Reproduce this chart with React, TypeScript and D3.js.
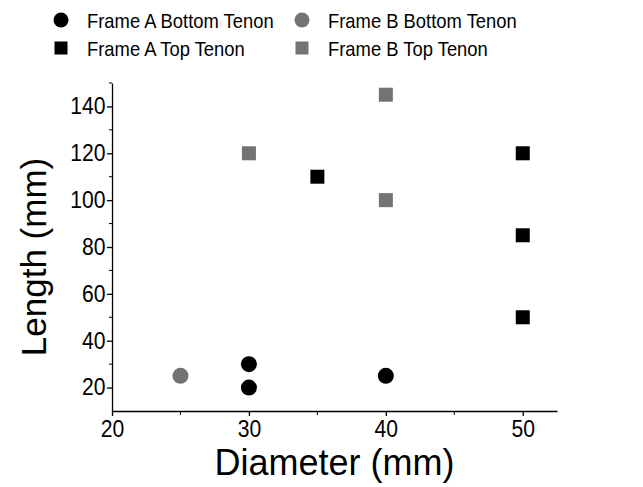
import { useEffect, useRef } from "react";
import * as d3 from "d3";

const seriesNames = [
  "Frame A Bottom Tenon",
  "Frame B Bottom Tenon",
  "Frame A Top Tenon",
  "Frame B Top Tenon",
];

// [diameter, length]
const frameABottom: [number, number][] = [
  [30, 30],
  [30, 20],
  [40, 25],
];
const frameBBottom: [number, number][] = [[25, 25]];
const frameATop: [number, number][] = [
  [35, 110],
  [50, 120],
  [50, 85],
  [50, 50],
];
const frameBTop: [number, number][] = [
  [30, 120],
  [40, 145],
  [40, 100],
];

const xTicks = [20, 30, 40, 50];
const xMinorTicks = [25, 35, 45];
const yTicks = [20, 40, 60, 80, 100, 120, 140];
const yMinorTicks = [30, 50, 70, 90, 110, 130, 150];

const W = 643;
const H = 487;
const GRAY = "#737373";
const FONT = "Arial, 'Liberation Sans', sans-serif";

export default function App() {
  const ref = useRef<SVGSVGElement | null>(null);

  useEffect(() => {
    const svg = d3.select(ref.current!);
    svg.selectAll("*").remove();

    const margin = { top: 83, right: 86, bottom: 76, left: 112 };
    const x = d3.scaleLinear().domain([20, 52.5]).range([margin.left, W - margin.right]);
    const y = d3.scaleLinear().domain([10, 150]).range([H - margin.bottom, margin.top]);

    const series = [
      { name: seriesNames[0], data: frameABottom, shape: "circle", color: "#000" },
      { name: seriesNames[1], data: frameBBottom, shape: "circle", color: GRAY },
      { name: seriesNames[2], data: frameATop, shape: "square", color: "#000" },
      { name: seriesNames[3], data: frameBTop, shape: "square", color: GRAY },
    ];

    // axes
    const xAxis = svg
      .append("g")
      .attr("transform", `translate(0,${y(10)})`)
      .call(d3.axisBottom(x).tickValues(xTicks).tickSize(5).tickSizeOuter(0).tickPadding(5));
    xAxis
      .selectAll("g.minor")
      .data(xMinorTicks)
      .join("line")
      .attr("x1", (d) => x(d))
      .attr("x2", (d) => x(d))
      .attr("y1", 0)
      .attr("y2", 4)
      .attr("stroke", "#000");

    const yAxis = svg
      .append("g")
      .attr("transform", `translate(${x(20)},0)`)
      .call(d3.axisLeft(y).tickValues(yTicks).tickSize(5).tickSizeOuter(0).tickPadding(2));
    yAxis
      .selectAll("g.minor")
      .data(yMinorTicks)
      .join("line")
      .attr("x1", 0)
      .attr("x2", -3)
      .attr("y1", (d) => y(d))
      .attr("y2", (d) => y(d))
      .attr("stroke", "#000");

    svg
      .selectAll(".domain, .tick line")
      .attr("stroke", "#000")
      .attr("stroke-width", 1.3);
    svg
      .selectAll(".tick text")
      .style("font", `23px ${FONT}`)
      .attr("fill", "#000")
      .attr("transform", "scale(0.92,1)");

    // axis titles
    svg
      .append("text")
      .attr("x", (x(20) + x(52.5)) / 2)
      .attr("y", 475)
      .attr("text-anchor", "middle")
      .style("font", `36px ${FONT}`)
      .text("Diameter (mm)");
    svg
      .append("text")
      .attr("transform", `translate(46,${257}) rotate(-90)`)
      .attr("text-anchor", "middle")
      .style("font", `35px ${FONT}`)
      .text("Length (mm)");

    // points
    series.forEach((s) => {
      const g = svg.append("g");
      if (s.shape === "circle") {
        g.selectAll("circle")
          .data(s.data)
          .join("circle")
          .attr("cx", (d) => x(d[0]))
          .attr("cy", (d) => y(d[1]))
          .attr("r", 8)
          .attr("fill", s.color);
      } else {
        g.selectAll("rect")
          .data(s.data)
          .join("rect")
          .attr("x", (d) => x(d[0]) - 7)
          .attr("y", (d) => y(d[1]) - 7)
          .attr("width", 14)
          .attr("height", 14)
          .attr("fill", s.color);
      }
    });

    // legend: 2 columns x 2 rows
    const legendPos = [
      { mx: 61, my: 20 },
      { mx: 302, my: 20 },
      { mx: 61, my: 48 },
      { mx: 302, my: 48 },
    ];
    series.forEach((s, i) => {
      const p = legendPos[i];
      const g = svg.append("g").attr("transform", `translate(${p.mx},${p.my})`);
      if (s.shape === "circle") {
        g.append("circle").attr("r", 7.5).attr("fill", s.color);
      } else {
        g.append("rect").attr("x", -6.5).attr("y", -6.5).attr("width", 13).attr("height", 13).attr("fill", s.color);
      }
      g.append("text")
        .attr("transform", "translate(26,7.5) scale(0.92,1)")
        .style("font", `20px ${FONT}`)
        .attr("fill", "#000")
        .text(s.name);
    });
  }, []);

  return (
    <div style={{ position: "absolute", left: 0, top: 0, background: "#fff" }}>
      <svg ref={ref} width={W} height={H} style={{ display: "block" }} />
    </div>
  );
}
